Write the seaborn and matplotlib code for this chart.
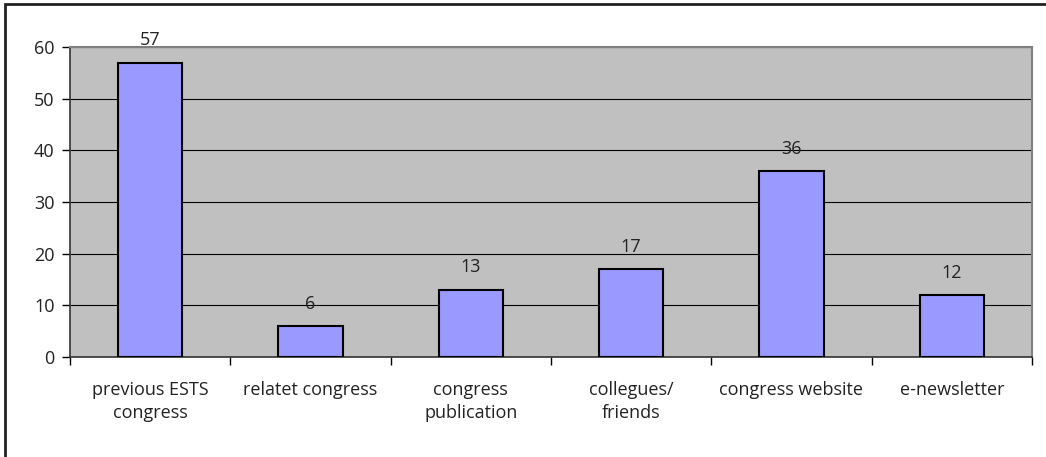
import matplotlib
matplotlib.use("Agg")
import matplotlib.pyplot as plt
import seaborn as sns
import pandas as pd
from matplotlib.patches import Rectangle

categories = ["previous ESTS\ncongress", "relatet congress", "congress\npublication",
              "collegues/\nfriends", "congress website", "e-newsletter"]
values = [57, 6, 13, 17, 36, 12]
yticks = [0, 10, 20, 30, 40, 50, 60]

sns.set_style("white")
plt.rcParams['font.family'] = ['Open Sans', 'DejaVu Sans']

fig = plt.figure(figsize=(10.46, 4.57), dpi=100)
ax = fig.add_axes([70/1046, 1-357/457, (1032-70)/1046, (357-47)/457])
ax.set_facecolor("#C0C0C0")

df = pd.DataFrame({"cat": categories, "val": values})
sns.barplot(data=df, x="cat", y="val", color="#9999FF", saturation=1, width=0.4,
            edgecolor="black", linewidth=1.5, ax=ax, zorder=3)

ax.set_ylim(0, 60)
ax.set_xlim(-0.5, len(categories) - 0.5)
ax.set_yticks(yticks)
ax.set_yticklabels([str(t) for t in yticks], fontsize=13, color="#222222")
ax.grid(axis="y", color="black", linewidth=0.8, zorder=0)
ax.set_axisbelow(True)

# x ticks at category boundaries, labels at centers
ax.set_xticks([i - 0.5 for i in range(len(categories) + 1)])
ax.set_xticklabels([])
ax.set_xticks(range(len(categories)), minor=True)
ax.set_xticklabels(categories, minor=True, fontsize=13, linespacing=1.4, color="#222222")
ax.tick_params(axis="x", which="minor", length=0, pad=17)
ax.tick_params(axis="x", which="major", direction="out", length=6, width=1, color="black", bottom=True)
ax.tick_params(axis="y", direction="out", length=6, width=1, color="black", left=True, pad=5)
ax.set_xlabel("")
ax.set_ylabel("")

for s in ["left", "bottom"]:
    ax.spines[s].set_color("#333333")
    ax.spines[s].set_linewidth(1.2)
for s in ["top", "right"]:
    ax.spines[s].set_color("#808080")
    ax.spines[s].set_linewidth(1.5)

for i, v in enumerate(values):
    ax.text(i, v + 2.6, str(v), ha="center", va="bottom", fontsize=13, color="#222222")

fig.patches.append(Rectangle((5/1046, -0.05), 1.1, 1 - 4/457 + 0.05,
                             transform=fig.transFigure, fill=False,
                             edgecolor="#222222", linewidth=2, clip_on=False))

fig.savefig("out.png", dpi=100)
